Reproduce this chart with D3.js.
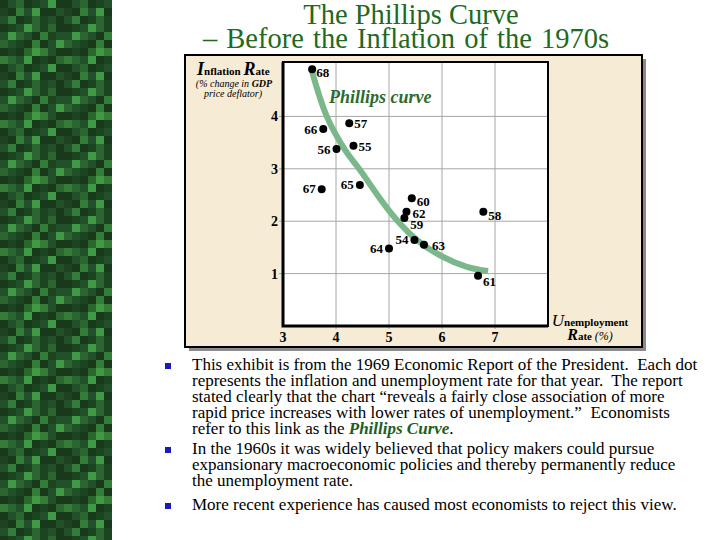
<!DOCTYPE html>
<html>
<head>
<meta charset="utf-8">
<script src="https://cdn.jsdelivr.net/npm/d3@7"></script>
<style>
  body { margin: 0; background: #fff; }
  svg { display: block; }
</style>
</head>
<body>
<div id="chart"></div>
<script>
// year labels and values
const years = ["68", "66", "57", "56", "55", "67", "65", "60", "62", "59", "58", "54", "63", "64", "61"];
const unemployment = [3.55, 3.76, 4.25, 4.01, 4.33, 3.73, 4.45, 5.43, 5.33, 5.29, 6.78, 5.48, 5.66, 5.00, 6.68];
const inflation = [4.90, 3.76, 3.87, 3.38, 3.44, 2.61, 2.69, 2.44, 2.18, 2.06, 2.18, 1.64, 1.55, 1.48, 0.96];

// hand-drawn Phillips curve, traced point by point
const curveU = [3.55, 3.83, 4.17, 4.45, 4.89, 5.15, 5.53, 5.96, 6.47, 6.87];
const curveInf = [4.85, 3.99, 3.36, 2.98, 2.35, 2.02, 1.64, 1.35, 1.13, 1.05];

const xTicks = [3, 4, 5, 6, 7];
const yTicks = [1, 2, 3, 4];

const bullets = [
  ["This exhibit is from the 1969 Economic Report of the President.  Each dot",
   "represents the inflation and unemployment rate for that year.  The report",
   "stated clearly that the chart \u201creveals a fairly close association of more",
   "rapid price increases with lower rates of unemployment.\u201d  Economists",
   "refer to this link as the |Phillips Curve|."],
  ["In the 1960s it was widely believed that policy makers could pursue",
   "expansionary macroeconomic policies and thereby permanently reduce",
   "the unemployment rate."],
  ["More recent experience has caused most economists to reject this view."]
];

// where each year label sits relative to its dot: [anchor, dx, dy]
const labelPlace = {
  "68": ["start", 4, 8], "66": ["end", -6, 5], "57": ["start", 5, 5],
  "56": ["end", -6, 5], "55": ["start", 5, 5], "67": ["end", -6, 4],
  "65": ["end", -6, 4], "60": ["start", 5, 8], "62": ["start", 6, 6],
  "59": ["start", 6, 11], "58": ["start", 5, 8], "54": ["end", -6, 4],
  "63": ["start", 8, 5], "64": ["end", -6, 5], "61": ["start", 5, 10]
};

const W = 720, H = 540;
const serif = "'Liberation Serif', 'Times New Roman', serif";
const titleGreen = "#1f6a1f";

const svg = d3.select("#chart").append("svg")
  .attr("width", W).attr("height", H)
  .style("font-family", serif);

// ---- green textured strip on the left
const shades = ["#183a1b", "#22502a", "#2b6630", "#357c39", "#3f9a43", "#1d4421"];
const grid = [
  "01205140", "50314001", "13052510", "05142520",
  "14210351", "21503014", "05024310", "32140502"
];
const cell = 8;
const defs = svg.append("defs");
const pat = defs.append("pattern")
  .attr("id", "tex").attr("patternUnits", "userSpaceOnUse")
  .attr("width", cell * 8).attr("height", cell * 8);
grid.forEach((row, r) => {
  row.split("").forEach((c, k) => {
    pat.append("rect")
      .attr("x", k * cell).attr("y", r * cell)
      .attr("width", cell).attr("height", cell)
      .attr("fill", shades[+c]);
  });
});
svg.append("rect").attr("x", 0).attr("y", 0).attr("width", 112).attr("height", H)
  .attr("fill", "url(#tex)");

// ---- title
svg.append("text").attr("x", 411).attr("y", 24).attr("text-anchor", "middle")
  .attr("font-size", 28.5).attr("fill", titleGreen).text("The Phillips Curve");
svg.append("text").attr("x", 406).attr("y", 48).attr("text-anchor", "middle")
  .attr("font-size", 28.5).attr("word-spacing", 2).attr("fill", titleGreen)
  .text("\u2013 Before the Inflation of the 1970s");

// ---- beige panel with shadow
const panel = { x: 185, y: 55, w: 457, h: 292 };
svg.append("rect").attr("x", panel.x + 4).attr("y", panel.y + 4)
  .attr("width", panel.w).attr("height", panel.h).attr("fill", "#8a8a8a");
svg.append("rect").attr("x", panel.x).attr("y", panel.y)
  .attr("width", panel.w).attr("height", panel.h)
  .attr("fill", "#f6ebd5").attr("stroke", "#000").attr("stroke-width", 2);

// ---- plot area
const plot = { left: 283, right: 548, top: 62, bottom: 326 };
const x = d3.scaleLinear().domain([3, 8]).range([plot.left, plot.right]);
const y = d3.scaleLinear().domain([0, 5]).range([plot.bottom, 64]);

svg.append("rect").attr("x", plot.left).attr("y", plot.top)
  .attr("width", plot.right - plot.left).attr("height", plot.bottom - plot.top)
  .attr("fill", "#fff");

// grid lines (tick past the axis a little, like the original)
svg.append("g").selectAll("line").data(xTicks.slice(1)).join("line")
  .attr("x1", d => x(d)).attr("x2", d => x(d))
  .attr("y1", plot.top).attr("y2", plot.bottom + 3)
  .attr("stroke", "#a6a6a6").attr("stroke-width", 1);
svg.append("g").selectAll("line").data(yTicks).join("line")
  .attr("x1", plot.left - 4).attr("x2", plot.right)
  .attr("y1", d => y(d)).attr("y2", d => y(d))
  .attr("stroke", "#a6a6a6").attr("stroke-width", 1);

// frame: thin top/right, heavy left/bottom
svg.append("rect").attr("x", plot.left).attr("y", plot.top)
  .attr("width", plot.right - plot.left).attr("height", plot.bottom - plot.top)
  .attr("fill", "none").attr("stroke", "#000").attr("stroke-width", 2);
svg.append("path")
  .attr("d", `M${plot.left},${plot.top}V${plot.bottom}H${plot.right}`)
  .attr("fill", "none").attr("stroke", "#000").attr("stroke-width", 3);

// tick labels
svg.append("g").selectAll("text").data(xTicks).join("text")
  .attr("x", d => x(d)).attr("y", 342).attr("text-anchor", "middle")
  .attr("font-size", 14).attr("font-weight", "bold").text(d => d);
svg.append("g").selectAll("text").data(yTicks).join("text")
  .attr("x", 278).attr("y", d => y(d) + 5).attr("text-anchor", "end")
  .attr("font-size", 14).attr("font-weight", "bold").text(d => d);

// axis titles
const yt = svg.append("text").attr("x", 197).attr("y", 75)
  .attr("font-weight", "bold").attr("font-size", 11);
yt.append("tspan").attr("font-size", 18).attr("font-style", "italic").text("I");
yt.append("tspan").text("nflation ");
yt.append("tspan").attr("font-size", 18).attr("font-style", "italic").text("R");
yt.append("tspan").text("ate");
const ys = svg.append("text").attr("x", 234).attr("y", 87).attr("text-anchor", "middle")
  .attr("font-size", 10).attr("font-style", "italic");
ys.append("tspan").text("(% change in ");
ys.append("tspan").attr("font-weight", "bold").text("GDP");
svg.append("text").attr("x", 233).attr("y", 97).attr("text-anchor", "middle")
  .attr("font-size", 10).attr("font-style", "italic").text("price deflator)");

const xt = svg.append("text").attr("x", 590).attr("y", 326).attr("text-anchor", "middle")
  .attr("font-weight", "bold").attr("font-size", 11);
xt.append("tspan").attr("font-size", 17).attr("font-style", "italic").attr("font-weight", "normal").text("U");
xt.append("tspan").text("nemployment");
const xr = svg.append("text").attr("x", 590).attr("y", 340).attr("text-anchor", "middle")
  .attr("font-size", 11);
xr.append("tspan").attr("font-size", 16).attr("font-style", "italic").attr("font-weight", "bold").text("R");
xr.append("tspan").attr("font-weight", "bold").text("ate ");
xr.append("tspan").attr("font-style", "italic").attr("font-size", 12).text("(%)");

// ---- Phillips curve
const curvePts = curveU.map((u, i) => [x(u), y(curveInf[i])]);
svg.append("path")
  .attr("d", d3.line().curve(d3.curveCatmullRom)(curvePts))
  .attr("fill", "none").attr("stroke", "#7ab78a").attr("stroke-width", 6)
  .attr("stroke-linecap", "butt");
svg.append("text").attr("x", 329).attr("y", 103)
  .attr("font-size", 18).attr("font-weight", "bold").attr("font-style", "italic")
  .attr("fill", "#2d6a2d").text("Phillips curve");

// ---- dots and year labels
const pts = years.map((yr, i) => ({ yr, u: unemployment[i], inf: inflation[i] }));
svg.append("g").selectAll("circle").data(pts).join("circle")
  .attr("cx", d => x(d.u)).attr("cy", d => y(d.inf)).attr("r", 4)
  .attr("fill", "#000");
svg.append("g").selectAll("text").data(pts).join("text")
  .attr("x", d => x(d.u) + labelPlace[d.yr][1])
  .attr("y", d => y(d.inf) + labelPlace[d.yr][2])
  .attr("text-anchor", d => labelPlace[d.yr][0])
  .attr("font-size", 13).attr("font-weight", "bold").text(d => d.yr);

// ---- bullet text
const lineH = 16;
let baseY = 370;
const paraGap = [0, 4, 8];
bullets.forEach((para, p) => {
  baseY += paraGap[p];
  svg.append("rect").attr("x", 165).attr("y", baseY - 7).attr("width", 6).attr("height", 6)
    .attr("fill", "#1a1ab8");
  para.forEach((ln, k) => {
    const t = svg.append("text").attr("x", 192).attr("y", baseY + k * lineH)
      .attr("font-size", 17).attr("xml:space", "preserve").style("white-space", "pre");
    ln.split("|").forEach((part, j) => {
      const s = t.append("tspan").text(part);
      if (j % 2 === 1) s.attr("font-weight", "bold").attr("font-style", "italic").attr("fill", "#1e5e1e");
    });
  });
  baseY += para.length * lineH;
});
</script>
</body>
</html>
